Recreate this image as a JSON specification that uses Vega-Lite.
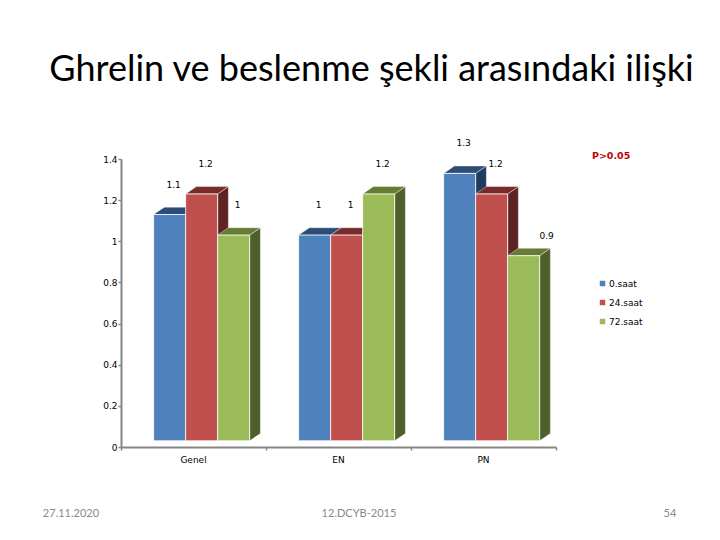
{
  "$schema": "https://vega.github.io/schema/vega-lite/v6.json",
  "title": {
    "text": "Ghrelin ve beslenme şekli arasındaki ilişki",
    "font": "Lato",
    "fontSize": 36,
    "fontWeight": "normal",
    "color": "#000000",
    "anchor": "middle",
    "frame": "group",
    "dx": 33,
    "offset": 50,
    "limit": 710
  },
  "autosize": "none",
  "padding": {"left": 121, "top": 159, "right": 164, "bottom": 93},
  "width": 435,
  "height": 288,
  "background": "white",
  "config": {"view": {"stroke": null}, "font": "DejaVu Sans"},
  "data": {
    "values": [
      {"group": "Genel", "series": "0.saat", "value": 1.1},
      {"group": "Genel", "series": "24.saat", "value": 1.2},
      {"group": "Genel", "series": "72.saat", "value": 1},
      {"group": "EN", "series": "0.saat", "value": 1},
      {"group": "EN", "series": "24.saat", "value": 1},
      {"group": "EN", "series": "72.saat", "value": 1.2},
      {"group": "PN", "series": "0.saat", "value": 1.3},
      {"group": "PN", "series": "24.saat", "value": 1.2},
      {"group": "PN", "series": "72.saat", "value": 0.9}
    ]
  },
  "transform": [
    {"calculate": "indexof(['Genel','EN','PN'], datum.group)", "as": "g"},
    {"calculate": "indexof(['0.saat','24.saat','72.saat'], datum.series)", "as": "s"},
    {"calculate": "datum.g + 0.225 + datum.s * 0.2207", "as": "left"},
    {"calculate": "datum.left + 0.2207", "as": "right"},
    {"calculate": "datum.left + 0.11", "as": "mid"},
    {"calculate": "datum.value + 0.03", "as": "top"},
    {"calculate": "0.03", "as": "base"}
  ],
  "layer": [
    {
      "transform": [
        {"calculate": "[0, 1]", "as": "c"},
        {"flatten": ["c"]},
        {"calculate": "datum.right + datum.c * 0.074", "as": "px"},
        {"calculate": "datum.top + datum.c * 0.036", "as": "hi"},
        {"calculate": "datum.base + datum.c * 0.036", "as": "lo"}
      ],
      "mark": {"type": "area", "orient": "vertical", "stroke": "white", "strokeWidth": 0.4},
      "encoding": {
        "x": {
          "field": "px", "type": "quantitative",
          "scale": {"domain": [0, 3], "nice": false},
          "axis": {
            "values": [0, 1, 2, 3], "labels": false, "title": null, "grid": false,
            "domainColor": "#868686", "domainWidth": 2, "tickColor": "#868686", "tickSize": 3, "tickWidth": 1.5
          }
        },
        "y": {
          "field": "hi", "type": "quantitative",
          "scale": {"domain": [0, 1.4], "nice": false},
          "axis": {
            "values": [0, 0.2, 0.4, 0.6, 0.8, 1, 1.2, 1.4], "format": "~g", "title": null, "grid": false,
            "domainColor": "#868686", "domainWidth": 2, "tickColor": "#868686", "tickSize": 3, "tickWidth": 1.5,
            "labelFontSize": 9, "labelColor": "#000000", "labelPadding": 1
          }
        },
        "y2": {"field": "lo"},
        "detail": [{"field": "group"}],
        "color": {
          "field": "series", "type": "nominal", "legend": null,
          "scale": {"domain": ["0.saat", "24.saat", "72.saat"], "range": ["#1f3b5e", "#5e2422", "#4d5f2a"]}
        }
      }
    },
    {
      "transform": [
        {"calculate": "[0, 0.074, 0.2207, 0.2947]", "as": "off"},
        {"flatten": ["off"]},
        {"calculate": "datum.left + datum.off", "as": "px"},
        {"calculate": "datum.top + min(datum.off / 0.074, 1) * 0.036", "as": "hi"},
        {"calculate": "datum.top + max((datum.off - 0.2207) / 0.074, 0) * 0.036", "as": "lo"}
      ],
      "mark": {"type": "area", "orient": "vertical", "stroke": "white", "strokeWidth": 0.4},
      "encoding": {
        "x": {"field": "px", "type": "quantitative"},
        "y": {"field": "hi", "type": "quantitative"},
        "y2": {"field": "lo"},
        "detail": [{"field": "group"}],
        "color": {
          "field": "series", "type": "nominal", "legend": null,
          "scale": {"domain": ["0.saat", "24.saat", "72.saat"], "range": ["#2c4d78", "#772c2a", "#677b34"]}
        }
      }
    },
    {
      "mark": {"type": "rect", "stroke": "white", "strokeWidth": 0.8},
      "encoding": {
        "x": {"field": "left", "type": "quantitative"},
        "x2": {"field": "right"},
        "y": {"field": "top", "type": "quantitative"},
        "y2": {"field": "base"},
        "color": {
          "field": "series", "type": "nominal",
          "scale": {"domain": ["0.saat", "24.saat", "72.saat"], "range": ["#4f81bd", "#c0504d", "#9bbb59"]},
          "legend": {
            "title": null, "orient": "none", "legendX": 477, "legendY": 120,
            "symbolType": "square", "symbolSize": 30, "symbolStrokeWidth": 0,
            "labelFontSize": 9, "labelColor": "#000000", "rowPadding": 9, "labelOffset": 2
          }
        }
      }
    },
    {
      "transform": [{"filter": "datum.value != 0.9"}],
      "mark": {"type": "text", "fontSize": 9, "color": "#000000", "dx": 4, "dy": -30},
      "encoding": {
        "x": {"field": "mid", "type": "quantitative"},
        "y": {"field": "top", "type": "quantitative"},
        "text": {"field": "value", "type": "nominal"}
      }
    },
    {
      "transform": [{"filter": "datum.value == 0.9"}],
      "mark": {"type": "text", "fontSize": 9, "color": "#000000", "dx": 23, "dy": -20},
      "encoding": {
        "x": {"field": "mid", "type": "quantitative"},
        "y": {"field": "top", "type": "quantitative"},
        "text": {"field": "value", "type": "nominal"}
      }
    },
    {
      "transform": [
        {"filter": "datum.s == 1"},
        {"calculate": "datum.g + 0.5", "as": "center"}
      ],
      "mark": {"type": "text", "fontSize": 9, "color": "#000000"},
      "encoding": {
        "x": {"field": "center", "type": "quantitative"},
        "y": {"datum": -0.065, "type": "quantitative"},
        "text": {"field": "group", "type": "nominal"}
      }
    },
    {
      "data": {"values": [{"note": "P>0.05"}]},
      "mark": {"type": "text", "fontSize": 9.5, "fontWeight": "bold", "color": "#c00000"},
      "encoding": {
        "x": {"datum": 3.38, "type": "quantitative"},
        "y": {"datum": 1.415, "type": "quantitative"},
        "text": {"field": "note", "type": "nominal"}
      }
    },
    {
      "data": {"values": [{"note": "27.11.2020"}]},
      "mark": {"type": "text", "font": "Lato", "fontSize": 11, "color": "#898989"},
      "encoding": {
        "x": {"datum": -0.345, "type": "quantitative"},
        "y": {"datum": -0.326, "type": "quantitative"},
        "text": {"field": "note", "type": "nominal"}
      }
    },
    {
      "data": {"values": [{"note": "12.DCYB-2015"}]},
      "mark": {"type": "text", "font": "Lato", "fontSize": 11, "color": "#898989"},
      "encoding": {
        "x": {"datum": 1.641, "type": "quantitative"},
        "y": {"datum": -0.326, "type": "quantitative"},
        "text": {"field": "note", "type": "nominal"}
      }
    },
    {
      "data": {"values": [{"note": "54"}]},
      "mark": {"type": "text", "font": "Lato", "fontSize": 11, "color": "#898989"},
      "encoding": {
        "x": {"datum": 3.786, "type": "quantitative"},
        "y": {"datum": -0.326, "type": "quantitative"},
        "text": {"field": "note", "type": "nominal"}
      }
    }
  ],
  "resolve": {"scale": {"color": "independent"}}
}
